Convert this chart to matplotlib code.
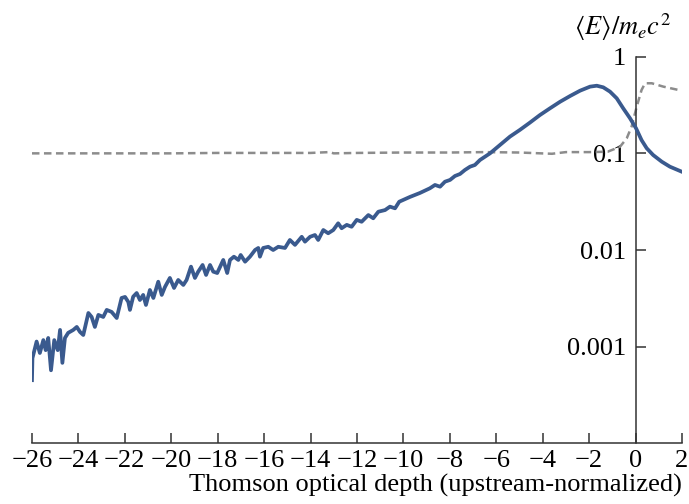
import matplotlib
matplotlib.use("Agg")
import matplotlib.pyplot as plt
from matplotlib.ticker import FixedLocator, NullLocator, FixedFormatter

plt.rcParams['font.family'] = ['Liberation Serif', 'DejaVu Serif']
plt.rcParams['mathtext.fontset'] = 'stix'

# Mean energy (blue solid)
x_blue = [-26.0, -25.98, -25.80, -25.66, -25.51, -25.41, -25.30, -25.18, -25.04, -24.89,
          -24.79, -24.69, -24.58, -24.44, -24.22, -24.07, -23.93, -23.79, -23.57, -23.43,
          -23.29, -23.14, -22.93, -22.78, -22.57, -22.35, -22.14, -21.99, -21.85, -21.78,
          -21.64, -21.49, -21.35, -21.21, -21.09, -20.92, -20.77, -20.56, -20.41, -20.27,
          -20.06, -19.88, -19.70, -19.48, -19.34, -19.15, -18.98, -18.84, -18.65, -18.50,
          -18.33, -18.19, -18.02, -17.76, -17.59, -17.47, -17.30, -17.11, -17.01, -16.82,
          -16.61, -16.39, -16.25, -16.18, -16.04, -15.82, -15.61, -15.39, -15.10, -14.89,
          -14.67, -14.38, -14.24, -14.02, -13.81, -13.67, -13.45, -13.24, -13.02, -12.81,
          -12.66, -12.44, -12.23, -12.01, -11.80, -11.51, -11.30, -11.08, -10.79, -10.58,
          -10.36, -10.18, -9.72, -9.29, -8.86, -8.64, -8.42, -8.21, -7.99, -7.78,
          -7.56, -7.35, -7.13, -6.92, -6.70, -6.27, -5.84, -5.41, -4.98, -4.55,
          -4.12, -3.69, -3.25, -2.82, -2.39, -1.96, -1.67, -1.39, -1.10, -0.81,
          -0.53, -0.24, 0.02, 0.26, 0.48, 0.76, 1.13, 1.48, 1.99]
y_blue = [4.5e-4, 7.6e-4, 1.13e-3, 8.6e-4, 1.17e-3, 9.2e-4, 1.23e-3, 5.7e-4, 1.17e-3, 9.2e-4,
          1.49e-3, 6.8e-4, 1.23e-3, 1.39e-3, 1.49e-3, 1.60e-3, 1.42e-3, 1.32e-3, 2.23e-3, 2.03e-3,
          1.60e-3, 2.13e-3, 2.03e-3, 2.40e-3, 2.29e-3, 1.98e-3, 3.19e-3, 3.27e-3, 2.90e-3, 2.40e-3,
          3.29e-3, 3.59e-3, 3.04e-3, 3.43e-3, 2.70e-3, 3.86e-3, 3.19e-3, 4.70e-3, 3.43e-3, 4.15e-3,
          5.14e-3, 4.05e-3, 4.90e-3, 4.35e-3, 4.90e-3, 6.73e-3, 5.14e-3, 5.97e-3, 7.00e-3, 5.52e-3,
          7.00e-3, 5.97e-3, 5.78e-3, 7.89e-3, 5.78e-3, 7.89e-3, 8.53e-3, 7.89e-3, 8.89e-3, 7.57e-3,
          8.53e-3, 1.00e-2, 1.05e-2, 8.53e-3, 1.05e-2, 1.08e-2, 1.00e-2, 1.08e-2, 1.05e-2, 1.27e-2,
          1.13e-2, 1.37e-2, 1.22e-2, 1.37e-2, 1.43e-2, 1.27e-2, 1.61e-2, 1.49e-2, 1.61e-2, 1.89e-2,
          1.68e-2, 1.82e-2, 1.74e-2, 2.05e-2, 1.96e-2, 2.30e-2, 2.13e-2, 2.49e-2, 2.59e-2, 2.81e-2,
          2.70e-2, 3.16e-2, 3.54e-2, 3.89e-2, 4.35e-2, 4.71e-2, 4.52e-2, 5.09e-2, 5.31e-2, 5.83e-2,
          6.12e-2, 6.73e-2, 7.28e-2, 7.58e-2, 8.54e-2, 0.100, 0.122, 0.149, 0.175, 0.208,
          0.249, 0.292, 0.342, 0.392, 0.445, 0.490, 0.501, 0.482, 0.435, 0.371,
          0.292, 0.231, 0.182, 0.137, 0.113, 0.096, 0.082, 0.0728, 0.0646]

# Second quantity (grey dashed)
x_gray = [-26.0, -24.0, -22.0, -20.0, -18.0, -16.0, -14.0, -13.2, -13.0, -12.0,
          -10.0, -8.0, -6.5, -5.0, -3.6, -3.0, -2.0, -1.2, -0.67, -0.38,
          -0.17, 0.05, 0.26, 0.41, 0.70, 1.20, 1.99]
y_gray = [0.100, 0.100, 0.100, 0.100, 0.101, 0.101, 0.101, 0.103, 0.100, 0.101,
          0.102, 0.102, 0.103, 0.102, 0.099, 0.103, 0.103, 0.104, 0.117, 0.143,
          0.189, 0.304, 0.453, 0.531, 0.531, 0.490, 0.445]

x_ticks = [-26, -24, -22, -20, -18, -16, -14, -12, -10, -8, -6, -4, -2, 0, 2]
y_ticks = [0.001, 0.01, 0.1, 1]
y_tick_labels = ['0.001', '0.01', '0.1', '1']

fig = plt.figure(figsize=(6.89, 5.04), dpi=100)
ax = fig.add_axes([0.0464, 0.1204, 0.9434, 0.7671])

ax.plot(x_gray, y_gray, color='#8c8c8c', lw=1.8, linestyle=(0, (3.0, 1.8)), zorder=2)
ax.plot(x_blue, y_blue, color='#3a5a8e', lw=2.7, zorder=3, solid_joinstyle='round')

ax.set_yscale('log')
ax.set_xlim(-26, 2)
ax.set_ylim(1e-4, 1)

ax.spines['top'].set_visible(False)
ax.spines['right'].set_visible(False)
ax.spines['left'].set_position(('data', 0))
for s in ('left', 'bottom'):
    ax.spines[s].set_color('#333333')
    ax.spines[s].set_linewidth(1.1)

ax.xaxis.set_major_locator(FixedLocator(x_ticks))
ax.xaxis.set_minor_locator(NullLocator())
ax.yaxis.set_major_locator(FixedLocator(y_ticks))
ax.yaxis.set_major_formatter(FixedFormatter(y_tick_labels))
ax.yaxis.set_minor_locator(NullLocator())

ax.tick_params(axis='x', direction='in', length=7, width=1.1, color='#333333',
               labelsize=19, pad=5)
ax.tick_params(axis='y', direction='in', length=7, width=1.1, color='#333333',
               labelsize=19, pad=7)
ax.set_xticklabels([('\u2212%d' % -v) if v < 0 else '%d' % v for v in x_ticks])

fig.text(0.903, 0.946, r'$\langle E\rangle/m_ec^2$', fontsize=19, ha='center', va='center')
fig.text(0.990, 0.037, 'Thomson optical depth (upstream-normalized)', fontsize=19,
         ha='right', va='center')

fig.savefig('out.png', dpi=100)
